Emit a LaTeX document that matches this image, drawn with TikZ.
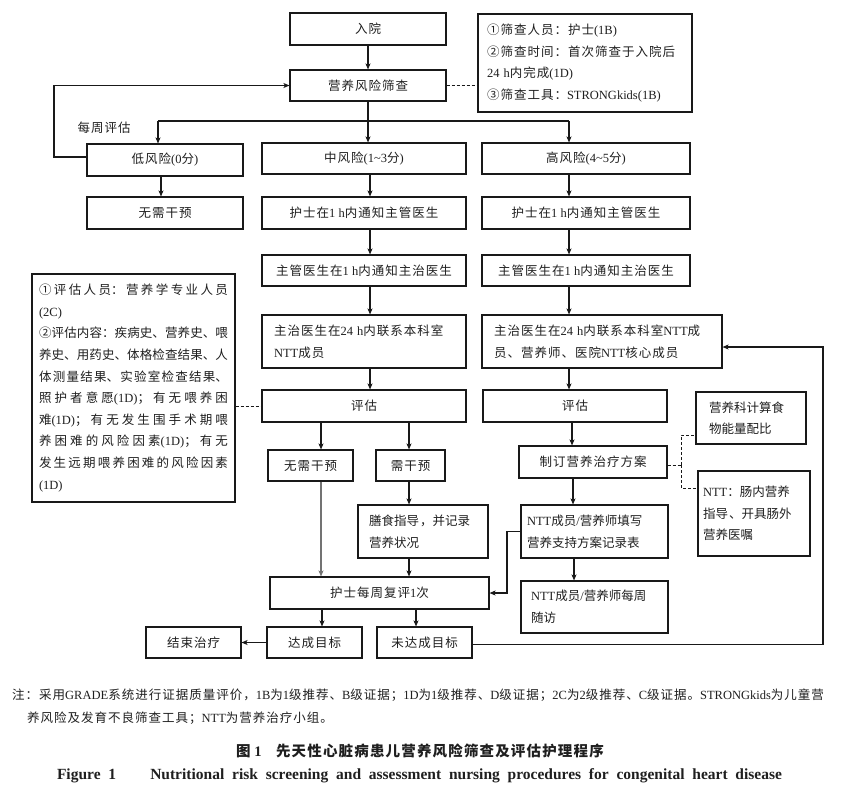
\documentclass[tikz,border=0pt]{standalone}
\usepackage{fontspec}
\usetikzlibrary{arrows.meta}
\setmainfont{Liberation Serif}
\newfontfamily\cjkLS{Noto Sans CJK SC}[LetterSpace=8]
\newfontfamily\cjkN{Noto Sans CJK SC}
\let\cjkfont\cjkLS
\XeTeXinterchartokenstate=1
\newXeTeXintercharclass\CJKcls
\makeatletter
\def\setcls#1#2{\count@=#1\relax\loop\XeTeXcharclass\count@=\CJKcls\ifnum\count@<#2\relax\advance\count@ by 1\repeat}
\makeatother
\setcls{"4E00}{"9FFF}
\setcls{"3000}{"303F}
\setcls{"FF00}{"FFEF}
\setcls{"2460}{"2473}
\XeTeXinterchartoks 0 \CJKcls = {\begingroup\cjkfont}
\XeTeXinterchartoks 4095 \CJKcls = {\begingroup\cjkfont}
\XeTeXinterchartoks \CJKcls 0 = {\endgroup}
\XeTeXinterchartoks \CJKcls 4095 = {\endgroup}
\newcommand\fs{\fontsize{12.5}{21.6}\selectfont}
\newcommand\bx[7][]{\node[box,minimum width={(#5-#3)*1pt},minimum height={(#6-#4)*1pt},#1] (#2) at ({(#3+#5)/2},{(#4+#6)/2}) {#7};}
\begin{document}
\begin{tikzpicture}[x=1pt,y=-1pt,
  box/.style={draw=black!90,line width=1.1pt,inner sep=0pt,text=black!88,font=\fs},
  arr/.style={line width=1.1pt,draw=black!90,-{Stealth[length=6pt,width=5pt,inset=1.5pt]}},
  ln/.style={line width=1.1pt,draw=black!90},
  dsh/.style={line width=1pt,draw=black!90,dash pattern=on 3pt off 2pt},
  txt/.style={inner sep=0pt,text=black!88,font=\fs}]
\fill[white] (0,0) rectangle (852,793);
\useasboundingbox (0,0) rectangle (852,793);
% boxes
\bx{ry}{290}{13}{446}{45}{入院}
\bx{sc}{290}{70}{446}{101}{营养风险筛查}
\bx[align=left,text width=196pt]{info1}{478}{14}{692}{112}{①筛查人员：护士(1B)\\②筛查时间：首次筛查于入院后\\24 h内完成(1D)\\③筛查工具：STRONGkids(1B)}
\bx{low}{87}{144}{243}{176}{低风险(0分)}
\bx{mid}{262}{143}{466}{174}{中风险(1\textasciitilde 3分)}
\bx{high}{482}{143}{690}{174}{高风险(4\textasciitilde 5分)}
\bx{lowno}{87}{197}{243}{229}{无需干预}
\bx{mid1}{262}{197}{466}{229}{护士在1 h内通知主管医生}
\bx{high1}{482}{197}{690}{229}{护士在1 h内通知主管医生}
\bx{mid2}{262}{255}{466}{286}{主管医生在1 h内通知主治医生}
\bx{high2}{482}{255}{690}{286}{主管医生在1 h内通知主治医生}
\bx[align=left,text width=180pt]{mid3}{262}{315}{466}{368}{主治医生在24 h内联系本科室\\NTT成员}
\bx[align=left,text width=216pt]{high3}{482}{315}{722}{368}{主治医生在24 h内联系本科室NTT成\\员、营养师、医院NTT核心成员}
\bx[align=justify,text width=189pt]{leftinfo}{32}{274}{235}{502}{\let\cjkfont\cjkN\XeTeXlinebreaklocale "zh"\XeTeXlinebreakskip=0pt plus 4pt\relax
①评估人员：营养学专业人员\linebreak
(2C)\\
②评估内容：疾病史、营养史、喂\linebreak
养史、用药史、体格检查结果、人\linebreak
体测量结果、实验室检查结果、\linebreak
照护者意愿(1D)；有无喂养困\linebreak
难(1D)；有无发生围手术期喂\linebreak
养困难的风险因素(1D)；有无\linebreak
发生远期喂养困难的风险因素\linebreak
(1D)}
\bx{mid4}{262}{390}{466}{422}{评估}
\bx{high4}{483}{390}{667}{422}{评估}
\bx{nono}{268}{450}{353}{481}{无需干预}
\bx{need}{376}{450}{445}{481}{需干预}
\bx[align=left,text width=108pt]{diet}{358}{505}{488}{558}{膳食指导，并记录\\营养状况}
\bx{plan}{519}{446}{667}{478}{制订营养治疗方案}
\bx[align=left,text width=84pt]{calc}{696}{392}{806}{444}{营养科计算食\\物能量配比}
\bx[align=left,text width=102pt]{ntt}{698}{471}{810}{556}{NTT：肠内营养\\指导、开具肠外\\营养医嘱}
\bx[align=left,text width=135pt]{fill}{521}{505}{668}{558}{NTT成员/营养师填写\\营养支持方案记录表}
\bx{review}{270}{577}{489}{609}{护士每周复评1次}
\bx[align=left,text width=127pt]{follow}{521}{581}{668}{633}{NTT成员/营养师每周\\随访}
\bx{reach}{267}{627}{362}{658}{达成目标}
\bx{notreach}{377}{627}{472}{658}{未达成目标}
\bx{endt}{146}{627}{241}{658}{结束治疗}
% label
\node[txt] (weekly) at (104,128) {每周评估};
% connectors
\draw[arr] (ry) -- (sc);
\draw[dsh] (sc.east) -- (info1.west |- sc.east);
\draw[arr] (sc.south) -- (sc.south |- mid.north);
\coordinate (jL) at (158,121);
\coordinate (jR) at (569,121);
\draw[ln] (jL) -- (jR);
\draw[arr] (jL) -- (jL |- low.north);
\draw[arr] (jR) -- (jR |- high.north);
\coordinate (lp) at (54,120);
\draw[arr] ([yshift=3pt]low.west) -| (lp) |- (sc.west);
\draw[arr] ([xshift=-4pt]low.south) -- ([xshift=-4pt]lowno.north);
\draw[arr] ([xshift=6pt]mid.south) -- ([xshift=6pt]mid1.north);
\draw[arr] ([xshift=6pt]mid1.south) -- ([xshift=6pt]mid2.north);
\draw[arr] ([xshift=6pt]mid2.south) -- ([xshift=6pt]mid3.north);
\draw[arr] ([xshift=6pt]mid3.south) -- ([xshift=6pt]mid4.north);
\draw[arr] (jR |- high.south) -- (jR |- high1.north);
\draw[arr] (jR |- high1.south) -- (jR |- high2.north);
\draw[arr] (jR |- high2.south) -- (jR |- high3.north);
\draw[arr] (jR |- high3.south) -- (jR |- high4.north);
\draw[arr] ([xshift=-3pt]high4.south) -- ([xshift=-3pt]high4.south |- plan.north);
\draw[arr] ([xshift=-20pt]plan.south) -- ([xshift=-20pt]plan.south |- fill.north);
\draw[arr] ([xshift=-20.5pt]fill.south) -- ([xshift=-20.5pt]fill.south |- follow.north);
\draw[dsh] (leftinfo.east |- mid4.west) -- (mid4.west);
\draw[arr] ([xshift=-43pt]mid4.south) -- ([xshift=-43pt]mid4.south |- nono.north);
\draw[arr] ([xshift=45pt]mid4.south) -- ([xshift=45pt]mid4.south |- need.north);
\draw[arr,draw=black!55] ([xshift=10.5pt]nono.south) -- ([xshift=10.5pt]nono.south |- review.north);
\draw[arr] ([xshift=-1.5pt]need.south) -- ([xshift=-1.5pt]need.south |- diet.north);
\draw[arr] ([xshift=-14pt]diet.south) -- ([xshift=-14pt]diet.south |- review.north);
\draw[arr] ([xshift=-57.5pt]review.south) -- ([xshift=-57.5pt]review.south |- reach.north);
\draw[arr] ([xshift=36.5pt]review.south) -- ([xshift=36.5pt]review.south |- notreach.north);
\draw[arr] (reach.west) -- (endt.east);
\coordinate (rr) at (823,500);
\draw[arr] ([yshift=-2pt]notreach.east) -| (rr) |- ([yshift=-5.5pt]high3.east);
\coordinate (fx) at (507,560);
\draw[arr] (fill.west) -| (fx) |- (review.east);
\coordinate (dj) at (681,465);
\draw[dsh] ([yshift=-3pt]plan.east) -- (dj);
\draw[dsh] (dj) |- ([yshift=-17pt]calc.west);
\draw[dsh] (dj) |- ([yshift=25.5pt]ntt.west);
% notes and captions
\node[txt,anchor=west] (note1) at (12,695) {注：采用GRADE系统进行证据质量评价，1B为1级推荐、B级证据；1D为1级推荐、D级证据；2C为2级推荐、C级证据。STRONGkids为儿童营};
\node[txt,anchor=west] (note2) at (27,718) {养风险及发育不良筛查工具；NTT为营养治疗小组。};
\node[txt,font=\fontsize{14.5}{16}\selectfont\bfseries] (cap1) at (420,751) {图 1\quad 先天性心脏病患儿营养风险筛查及评估护理程序};
\node[txt,font=\fontsize{15.5}{18}\selectfont\bfseries] (cap2) at (419.5,776) {\makebox[725pt][s]{Figure 1\hspace{2.2em}Nutritional risk screening and assessment nursing procedures for congenital heart disease}};
\end{tikzpicture}
\end{document}
